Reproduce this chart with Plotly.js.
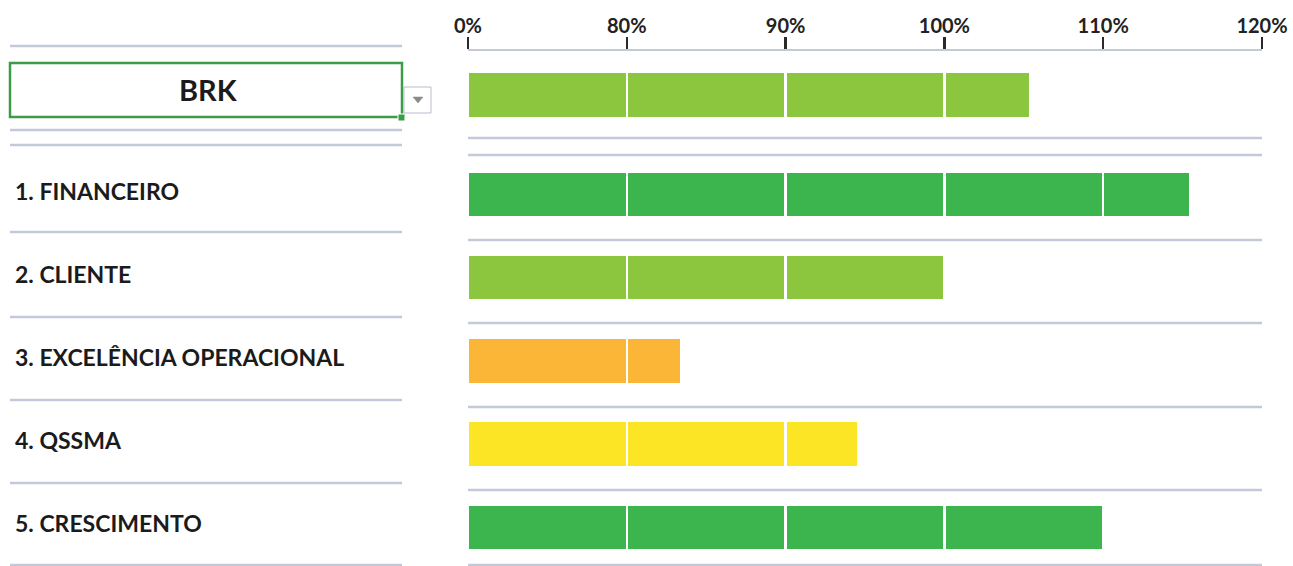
<!DOCTYPE html>
<html>
<head>
<meta charset="utf-8">
<script src="https://cdn.plot.ly/plotly-3.0.1.min.js"></script>
<style>
  html, body { margin: 0; padding: 0; background: #ffffff; }
  #chart { width: 1293px; height: 566px; }
</style>
</head>
<body>
<div id="chart"></div>
<script>
// ---------- data ----------
const categories = ["BRK", "1. FINANCEIRO", "2. CLIENTE", "3. EXCELÊNCIA OPERACIONAL", "4. QSSMA", "5. CRESCIMENTO"];
const values = [105.4, 115.5, 100, 83.4, 94.6, 110];           // % attainment
const barColors = ["#8cc63f", "#3db54e", "#8cc63f", "#fcb637", "#fbe524", "#3db54e"];
const tickLabels = ["0%", "80%", "90%", "100%", "110%", "120%"];
const bandEdges = [0, 80, 90, 100, 110, 120];                   // scale breakpoints

// ---------- geometry helpers ----------
const W = 1293, H = 566;
const M = { l: 468, r: 31, t: 51, b: 0 };
const PW = W - M.l - M.r, PH = H - M.t - M.b;
const px2x = px => (px - M.l) / PW;          // pixel -> paper x
const py2y = py => (H - M.b - py) / PH;      // pixel -> paper y

// row positions (selected company row sits a bit apart)
const rowPos = categories.map((c, i) => i === 0 ? 0 : i + 0.2);

// split each value into equal-width bands of the segmented scale
const nBands = bandEdges.length - 1;
const traces = [];
for (let k = 0; k < nBands; k++) {
  const lo = bandEdges[k], hi = bandEdges[k + 1];
  const widths = values.map(v => Math.max(0, Math.min(1, (v - lo) / (hi - lo))));
  traces.push({
    type: "bar",
    orientation: "h",
    x: widths,
    y: rowPos,
    width: 0.55,
    marker: { color: barColors, line: { color: "#ffffff", width: 2.5 } },
    hoverinfo: "skip",
    showlegend: false
  });
}

// ---------- decorations ----------
const lineCol = "#c4c9d9";
const shapes = [];
function hline(x0, x1, y, w) {
  shapes.push({ type: "line", xref: "paper", yref: "paper",
    x0: px2x(x0), x1: px2x(x1), y0: py2y(y), y1: py2y(y),
    line: { color: lineCol, width: w || 2.5 }, layer: "below" });
}
// left column gridlines
[46, 130, 145, 232, 317, 400, 483, 565].forEach(y => hline(10, 402, y));
// right area gridlines
[138, 155, 240, 323, 407, 490, 565].forEach(y => hline(468, 1262, y));

// selected-cell box
shapes.push({ type: "rect", xref: "paper", yref: "paper",
  x0: px2x(10), x1: px2x(402), y0: py2y(117), y1: py2y(63),
  line: { color: "#3d9c47", width: 2.5 }, fillcolor: "rgba(0,0,0,0)" });
// fill handle
shapes.push({ type: "rect", xref: "paper", yref: "paper",
  x0: px2x(398), x1: px2x(405), y0: py2y(121), y1: py2y(114),
  line: { color: "#ffffff", width: 1 }, fillcolor: "#3d9c47" });
// dropdown button
shapes.push({ type: "rect", xref: "paper", yref: "paper",
  x0: px2x(404), x1: px2x(431), y0: py2y(113), y1: py2y(87),
  line: { color: "#b9bdcb", width: 1 }, fillcolor: "#ffffff" });
const tx = px2x(413), tx2 = px2x(423), txm = px2x(418), ty = py2y(97), ty2 = py2y(103);
shapes.push({ type: "path", xref: "paper", yref: "paper",
  path: `M ${tx} ${ty} L ${tx2} ${ty} L ${txm} ${ty2} Z`,
  line: { color: "#8a8a8a", width: 0.5 }, fillcolor: "#8a8a8a" });

// row labels
const labelFont = { family: "Lato, 'Open Sans', sans-serif", size: 23, color: "#1b1b1b", weight: 700 };
const annotations = categories.map((c, i) => {
  if (i === 0) {
    return { text: c, xref: "paper", yref: "y", x: px2x(208), y: rowPos[i], yshift: 6,
      xanchor: "center", yanchor: "middle", showarrow: false,
      font: Object.assign({}, labelFont, { size: 29 }) };
  }
  return { text: c, xref: "paper", yref: "y", x: px2x(13), y: rowPos[i], yshift: 4,
    xanchor: "left", yanchor: "middle", showarrow: false, font: labelFont };
});

const layout = {
  width: W, height: H,
  margin: M,
  paper_bgcolor: "#ffffff", plot_bgcolor: "#ffffff",
  barmode: "stack",
  bargap: 0,
  xaxis: {
    range: [0, nBands], side: "top",
    tickvals: bandEdges.map((e, i) => i), ticktext: tickLabels,
    ticks: "outside", ticklen: 12, tickwidth: 2.5, tickcolor: "#2a2a2a",
    ticklabelstandoff: -4,
    showline: true, linecolor: lineCol, linewidth: 2.5,
    showgrid: false, zeroline: false, fixedrange: true,
    tickfont: { family: "Lato, 'Open Sans', sans-serif", size: 20, color: "#222222", weight: 700 }
  },
  yaxis: {
    range: [5.668, -0.5295],
    visible: false, showgrid: false, zeroline: false, fixedrange: true
  },
  shapes: shapes,
  annotations: annotations
};

Plotly.newPlot("chart", traces, layout, { displayModeBar: false, staticPlot: true });
</script>
</body>
</html>
